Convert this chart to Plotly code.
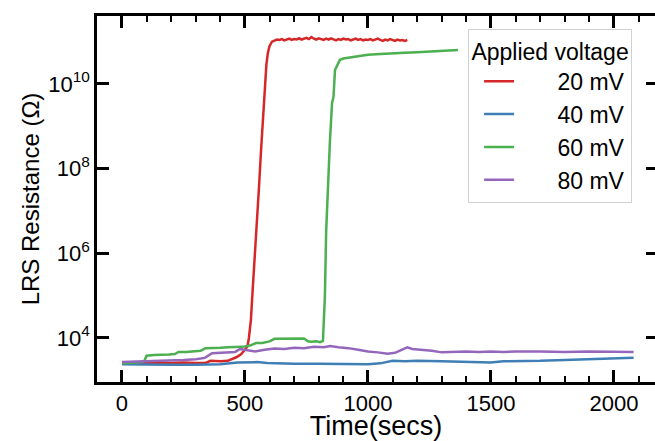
import plotly.graph_objects as go

# ---- data (time in seconds, resistance as log10(Ohm)) ----
red_t = [0, 50, 100, 150, 200, 250, 300, 340, 360, 400, 430, 450, 467, 485, 500, 510, 516, 524, 532,
         541, 549, 557, 565, 573, 581, 587, 593, 600, 610,
         620, 630, 640, 650, 660, 670, 680, 690, 700, 710, 720, 730, 740, 750, 760, 770, 780, 790,
         800, 810, 820, 830, 840, 850, 860, 870, 880, 890, 900, 910, 920, 930, 940, 950, 960, 970,
         980, 990, 1000, 1010, 1020, 1030, 1040, 1050, 1060, 1070, 1080, 1090, 1100, 1110, 1120,
         1130, 1140, 1150, 1160]
red_log = [3.41, 3.42, 3.41, 3.42, 3.41, 3.42, 3.41, 3.41, 3.46, 3.45, 3.46, 3.50, 3.55, 3.62, 3.72,
           3.80, 4.00, 4.42, 5.20, 6.00, 6.80, 7.56, 8.40, 9.15, 10.10, 10.45, 10.73, 10.90, 11.00,
           11.03, 11.05, 11.04, 11.06, 11.03, 11.05, 11.07, 11.04, 11.06, 11.05, 11.08, 11.05, 11.07,
           11.09, 11.06, 11.11, 11.07, 11.05, 11.08, 11.06, 11.04, 11.07, 11.05, 11.08, 11.05, 11.03,
           11.06, 11.04, 11.07, 11.05, 11.06, 11.03, 11.05, 11.07, 11.04, 11.06, 11.03, 11.05, 11.04,
           11.06, 11.03, 11.05, 11.07, 11.04, 11.02, 11.05, 11.03, 11.06, 11.04, 11.02, 11.05, 11.03,
           11.04, 11.02, 11.04]

blue_t = [0, 100, 200, 300, 400, 470, 500, 550, 590, 650, 700, 800, 900, 1000, 1050, 1100, 1150,
          1200, 1300, 1400, 1450, 1500, 1550, 1600, 1700, 1800, 1900, 2000, 2080]
blue_log = [3.38, 3.37, 3.37, 3.37, 3.38, 3.42, 3.43, 3.43, 3.41, 3.39, 3.39, 3.39, 3.38, 3.38, 3.40,
            3.46, 3.45, 3.46, 3.45, 3.44, 3.42, 3.42, 3.45, 3.45, 3.46, 3.48, 3.50, 3.52, 3.53]

green_t = [0, 30, 60, 90, 100, 130, 160, 190, 215, 230, 260, 290, 320, 340, 370, 400, 430, 460, 490,
           520, 545, 570, 600, 620, 650, 680, 710, 740, 756, 770, 790, 805, 817, 825, 830, 837, 845,
           854, 860, 866, 875, 886, 900, 930, 960, 1000, 1050, 1100, 1150, 1200, 1250, 1300, 1340, 1366]
green_log = [3.40, 3.41, 3.42, 3.45, 3.58, 3.60, 3.60, 3.61, 3.62, 3.67, 3.67, 3.68, 3.70, 3.76, 3.76,
             3.77, 3.78, 3.78, 3.79, 3.82, 3.88, 3.88, 3.92, 3.98, 3.98, 3.99, 3.98, 3.99, 3.92, 3.91,
             3.92, 3.90, 3.93, 5.00, 6.50, 7.56, 8.60, 9.55, 9.70, 10.33, 10.45, 10.57, 10.60, 10.63,
             10.66, 10.69, 10.71, 10.73, 10.74, 10.75, 10.76, 10.78, 10.79, 10.80]

purple_t = [0, 50, 100, 150, 200, 250, 300, 337, 366, 400, 430, 460, 480, 500, 541, 580, 620, 660,
            700, 740, 780, 820, 846, 880, 920, 960, 1000, 1040, 1080, 1110, 1140, 1160, 1180, 1220,
            1260, 1300, 1350, 1400, 1450, 1500, 1550, 1600, 1700, 1800, 1900, 2000, 2080]
purple_log = [3.43, 3.44, 3.44, 3.45, 3.46, 3.48, 3.50, 3.53, 3.64, 3.65, 3.66, 3.67, 3.74, 3.72,
              3.68, 3.72, 3.75, 3.74, 3.77, 3.76, 3.79, 3.78, 3.81, 3.78, 3.76, 3.72, 3.68, 3.66,
              3.63, 3.65, 3.72, 3.78, 3.74, 3.72, 3.70, 3.66, 3.67, 3.68, 3.67, 3.68, 3.67, 3.68,
              3.68, 3.67, 3.68, 3.67, 3.67]

series_names = ["20 mV", "40 mV", "60 mV", "80 mV"]
series_colors = ["#d62728", "#3f7fb5", "#4caf50", "#9467bd"]

y_tickvals = [1e4, 1e6, 1e8, 1e10]
y_ticktext = ["10<sup>4</sup>", "10<sup>6</sup>", "10<sup>8</sup>", "10<sup>10</sup>"]
x_tickvals = [0, 500, 1000, 1500, 2000]

FONT = "Liberation Sans, Arial, sans-serif"
PAD = "\u00a0" * 6

fig = go.Figure()
for t, lg, name, col in zip([red_t, blue_t, green_t, purple_t],
                            [red_log, blue_log, green_log, purple_log],
                            series_names, series_colors):
    fig.add_trace(go.Scatter(x=t, y=[10 ** v for v in lg], mode="lines", name=PAD + name,
                             line=dict(color=col, width=2.5)))

# invisible trace to drive the top / right tick axes
fig.add_trace(go.Scatter(x=[0], y=[1e4], xaxis="x2", yaxis="y2", mode="lines", showlegend=False,
                         hoverinfo="skip", line=dict(width=0), opacity=0))

xr = [-101.6, 2167]
yr = [2.96, 11.606]
fig.update_layout(
    width=655, height=441,
    margin=dict(l=97, r=0, t=16, b=59),
    paper_bgcolor="white", plot_bgcolor="white",
    font=dict(family=FONT, color="black"),
    showlegend=True,
    xaxis=dict(range=xr, tickvals=x_tickvals, ticks="inside", ticklen=12, tickwidth=3,
               tickcolor="black", showline=True, linecolor="black", linewidth=2.5,
               showgrid=False, zeroline=False, tickfont=dict(size=22), automargin=False,
               minor=dict(dtick=100, tick0=0, ticks="inside", ticklen=6, tickwidth=1.5,
                          tickcolor="black", showgrid=False),
               title=dict(text="Time(secs)", font=dict(size=27), standoff=7)),
    xaxis2=dict(range=xr, overlaying="x", side="top", anchor="y2", tickvals=x_tickvals,
                ticks="inside", ticklen=12, tickwidth=3, tickcolor="black", showline=True,
                linecolor="black", linewidth=2.5, showticklabels=False, showgrid=False,
                zeroline=False, automargin=False,
                minor=dict(dtick=100, tick0=0, ticks="inside", ticklen=6, tickwidth=1.5,
                           tickcolor="black", showgrid=False)),
    yaxis=dict(type="log", range=yr, tickvals=y_tickvals, ticktext=y_ticktext, ticks="inside",
               ticklen=12, tickwidth=3, tickcolor="black", showline=True, linecolor="black",
               linewidth=2.5, showgrid=False, zeroline=False, tickfont=dict(size=22),
               automargin=False,
               title=dict(text="LRS Resistance (Ω)", font=dict(size=24), standoff=2)),
    yaxis2=dict(type="log", range=yr, overlaying="y", side="right", anchor="x2",
                tickvals=y_tickvals, ticks="inside", ticklen=9, tickwidth=3, tickcolor="black",
                showticklabels=False, showline=False, showgrid=False, zeroline=False,
                automargin=False),
    legend=dict(x=0.665, y=0.965, xanchor="left", yanchor="top", bgcolor="white",
                bordercolor="#d0d0d0", borderwidth=1, font=dict(size=23), indentation=10,
                title=dict(text="Applied voltage", side="top center", font=dict(size=23))),
)

fig.write_html("out.html", config={"displayModeBar": False},
               post_script="document.body.style.margin='0';document.body.style.overflow='hidden';")
